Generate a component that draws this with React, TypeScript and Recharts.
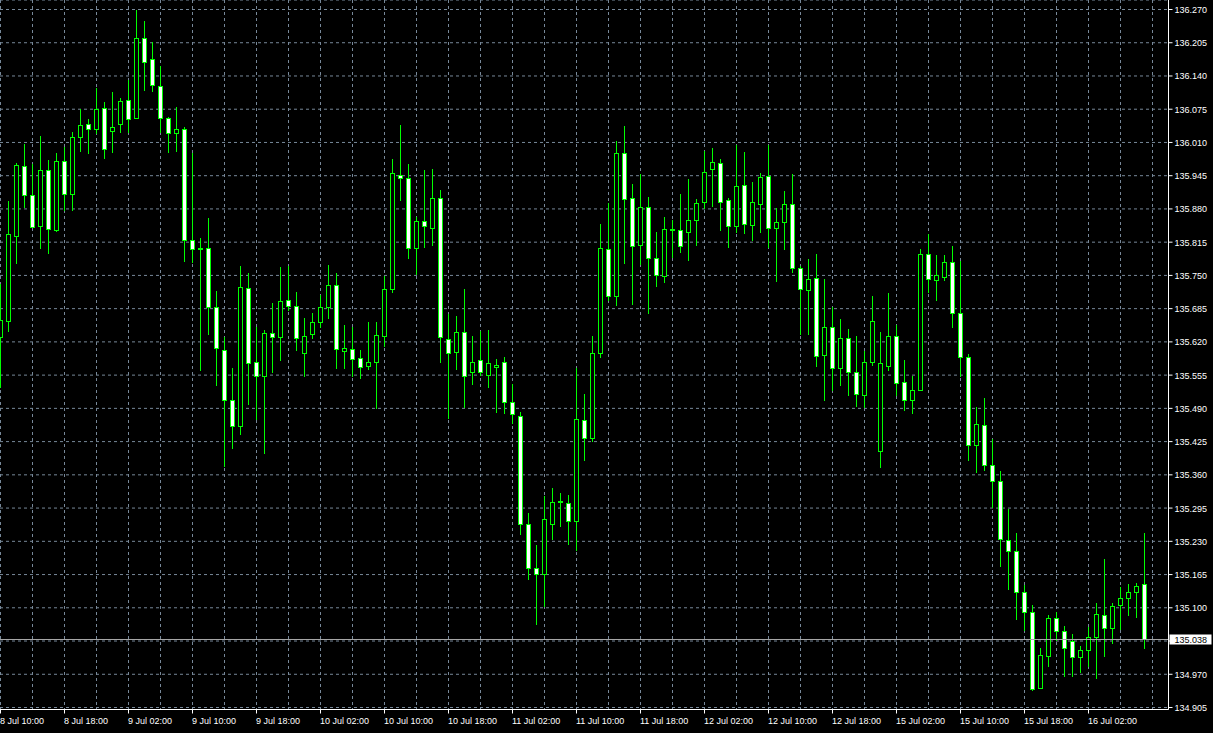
import React from "react"
import { ComposedChart, Bar, XAxis, YAxis, CartesianGrid, ReferenceLine } from "recharts"

// hourly candles, 8 Jul 10:00 .. 16 Jul 09:00
const opens = [
  135.630, 135.660, 135.827, 135.964, 135.908, 135.847, 135.957, 135.839, 135.973, 135.910,
  136.020, 136.046, 136.036, 136.078, 136.032, 136.046, 136.093, 136.058, 136.215, 136.174,
  136.121, 136.058, 136.028, 136.036, 135.820, 135.802, 135.804, 135.689, 135.605, 135.507,
  135.456, 135.726, 135.580, 135.554, 135.637, 135.629, 135.702, 135.690, 135.599, 135.636,
  135.659, 135.689, 135.732, 135.603, 135.607, 135.588, 135.572, 135.580, 135.631, 135.724,
  135.947, 135.941, 135.804, 135.857, 135.843, 135.902, 135.625, 135.601, 135.639, 135.562,
  135.584, 135.556, 135.570, 135.580, 135.503, 135.476, 135.264, 135.178, 135.167, 135.264,
  135.309, 135.305, 135.270, 135.468, 135.433, 135.599, 135.802, 135.710, 135.989, 135.902,
  135.810, 135.883, 135.785, 135.749, 135.841, 135.838, 135.834, 135.859, 135.894, 135.959,
  135.969, 135.898, 135.847, 135.926, 135.849, 135.890, 135.944, 135.843, 135.855, 135.889,
  135.765, 135.722, 135.745, 135.595, 135.650, 135.568, 135.627, 135.562, 135.517, 135.580,
  135.407, 135.572, 135.631, 135.541, 135.507, 135.525, 135.792, 135.741, 135.747, 135.777,
  135.677, 135.590, 135.419, 135.458, 135.380, 135.348, 135.233, 135.212, 135.130, 135.092,
  134.943, 135.006, 135.081, 135.055, 135.036, 135.004, 135.018, 135.043, 135.085, 135.061,
  135.106, 135.120, 135.130, 135.147,
]

const highs = [
  135.734, 135.895, 135.969, 136.007, 135.968, 136.022, 135.975, 135.989, 136.002, 136.030,
  136.075, 136.056, 136.117, 136.090, 136.108, 136.097, 136.133, 136.269, 136.247, 136.207,
  136.159, 136.060, 136.080, 136.041, 135.989, 135.823, 135.862, 135.719, 135.629, 135.569,
  135.768, 135.754, 135.650, 135.643, 135.697, 135.766, 135.768, 135.717, 135.667, 135.677,
  135.711, 135.770, 135.754, 135.653, 135.649, 135.605, 135.659, 135.659, 135.749, 135.977,
  136.044, 135.968, 135.865, 135.957, 135.959, 135.917, 135.675, 135.671, 135.724, 135.631,
  135.641, 135.644, 135.586, 135.590, 135.537, 135.482, 135.286, 135.222, 135.319, 135.335,
  135.325, 135.321, 135.568, 135.518, 135.631, 135.851, 135.892, 136.012, 136.042, 135.928,
  135.949, 135.903, 135.834, 135.864, 135.858, 135.909, 135.938, 135.899, 135.993, 135.999,
  135.977, 135.902, 136.005, 135.991, 135.932, 135.950, 136.005, 135.881, 135.916, 135.949,
  135.769, 135.783, 135.791, 135.743, 135.689, 135.665, 135.646, 135.631, 135.603, 135.710,
  135.639, 135.716, 135.653, 135.584, 135.554, 135.802, 135.830, 135.789, 135.789, 135.808,
  135.779, 135.597, 135.492, 135.511, 135.431, 135.368, 135.293, 135.246, 135.145, 135.106,
  135.022, 135.085, 135.091, 135.065, 135.049, 135.026, 135.063, 135.110, 135.196, 135.110,
  135.140, 135.147, 135.149, 135.247,
]

const lows = [
  135.529, 135.640, 135.773, 135.881, 135.842, 135.802, 135.792, 135.835, 135.876, 135.876,
  135.992, 135.988, 136.026, 135.978, 135.990, 136.029, 136.029, 136.055, 136.110, 136.108,
  136.029, 135.990, 135.992, 135.776, 135.775, 135.563, 135.633, 135.534, 135.376, 135.410,
  135.438, 135.497, 135.467, 135.400, 135.559, 135.582, 135.680, 135.603, 135.552, 135.626,
  135.647, 135.664, 135.567, 135.567, 135.552, 135.548, 135.565, 135.488, 135.610, 135.715,
  135.896, 135.782, 135.751, 135.804, 135.807, 135.579, 135.470, 135.565, 135.491, 135.535,
  135.554, 135.529, 135.480, 135.478, 135.460, 135.242, 135.155, 135.067, 135.102, 135.233,
  135.258, 135.222, 135.212, 135.387, 135.424, 135.589, 135.700, 135.690, 135.772, 135.692,
  135.770, 135.674, 135.727, 135.735, 135.784, 135.794, 135.778, 135.807, 135.879, 135.883,
  135.837, 135.804, 135.833, 135.831, 135.817, 135.833, 135.804, 135.737, 135.800, 135.755,
  135.633, 135.633, 135.570, 135.505, 135.524, 135.534, 135.514, 135.493, 135.490, 135.572,
  135.374, 135.563, 135.515, 135.484, 135.478, 135.523, 135.716, 135.700, 135.740, 135.648,
  135.552, 135.387, 135.363, 135.368, 135.295, 135.180, 135.135, 135.077, 135.055, 134.938,
  134.941, 134.985, 135.036, 134.964, 134.965, 134.973, 134.985, 134.961, 135.004, 135.030,
  135.057, 135.083, 135.081, 135.020,
]

const closes = [
  135.662, 135.830, 135.965, 135.908, 135.845, 135.957, 135.841, 135.973, 135.910, 136.020,
  136.045, 136.036, 136.076, 135.998, 136.040, 136.092, 136.056, 136.215, 136.168, 136.123,
  136.058, 136.028, 136.036, 135.820, 135.802, 135.804, 135.688, 135.609, 135.507, 135.456,
  135.728, 135.578, 135.554, 135.637, 135.629, 135.700, 135.690, 135.627, 135.631, 135.659,
  135.689, 135.732, 135.607, 135.609, 135.586, 135.570, 135.580, 135.633, 135.724, 135.951,
  135.941, 135.804, 135.857, 135.847, 135.902, 135.629, 135.599, 135.639, 135.554, 135.580,
  135.562, 135.578, 135.574, 135.503, 135.478, 135.264, 135.178, 135.167, 135.274, 135.307,
  135.307, 135.270, 135.470, 135.433, 135.599, 135.804, 135.710, 135.990, 135.900, 135.808,
  135.883, 135.785, 135.751, 135.840, 135.840, 135.808, 135.859, 135.892, 135.953, 135.971,
  135.894, 135.847, 135.924, 135.851, 135.894, 135.942, 135.843, 135.855, 135.889, 135.765,
  135.724, 135.743, 135.593, 135.650, 135.568, 135.627, 135.562, 135.519, 135.580, 135.661,
  135.578, 135.631, 135.539, 135.507, 135.525, 135.792, 135.743, 135.751, 135.777, 135.677,
  135.590, 135.419, 135.460, 135.380, 135.348, 135.235, 135.212, 135.130, 135.092, 134.941,
  135.008, 135.081, 135.055, 135.022, 135.004, 135.018, 135.043, 135.087, 135.061, 135.104,
  135.120, 135.130, 135.143, 135.038,
]

// one label every 8 candles
const timeLabels = [
  "8 Jul 10:00", "8 Jul 18:00", "9 Jul 02:00", "9 Jul 10:00", "9 Jul 18:00", "10 Jul 02:00",
  "10 Jul 10:00", "10 Jul 18:00", "11 Jul 02:00", "11 Jul 10:00", "11 Jul 18:00", "12 Jul 02:00",
  "12 Jul 10:00", "12 Jul 18:00", "15 Jul 02:00", "15 Jul 10:00", "15 Jul 18:00", "16 Jul 02:00",
]

const priceTicks = [
  136.270, 136.205, 136.140, 136.075, 136.010, 135.945, 135.880, 135.815, 135.750, 135.685, 135.620,
  135.555, 135.490, 135.425, 135.360, 135.295, 135.230, 135.165, 135.100, 135.035, 134.970, 134.905,
]

const lastPrice = 135.038

const candles = opens.map((open, i) => ({ i, open, high: highs[i], low: lows[i], close: closes[i] }))
const gridTicks = Array.from({ length: 37 }, (_, k) => k * 4)

const LIME = "#00ff00"
const FONT = "Tahoma, 'Liberation Sans', Arial, sans-serif"

function Candle(props: any) {
  const { x, y, width, height, payload } = props
  if (!payload) return null
  const { open, high, low, close } = payload
  const top = Math.min(y, y + height)
  const bottom = Math.max(y, y + height)
  const k = (bottom - top) / (high - low || 1)
  const py = (p: number) => top + (high - p) * k
  const cx = Math.round(x + width / 2 - 0.5) + 0.5
  const bull = close > open
  const bt = Math.round(py(Math.max(open, close))) + 0.5
  let bb = Math.round(py(Math.min(open, close))) + 0.5
  if (bb - bt < 1) bb = bt + 1
  return (
    <g>
      <line x1={cx} x2={cx} y1={Math.round(top)} y2={Math.round(bottom)} stroke={LIME} strokeWidth={1} />
      <rect x={cx - 2} y={bt} width={4} height={bb - bt} fill={bull ? "#000" : "#fff"} stroke={LIME} strokeWidth={1} />
    </g>
  )
}

function TimeTick(props: any) {
  const { x, y, payload } = props
  const idx = payload.value
  if (idx % 8 !== 0) return null
  const label = timeLabels[idx / 8]
  if (!label) return null
  const px = Math.round(x - 0.5) + 0.5
  return (
    <g>
      <line x1={px} x2={px} y1={y} y2={y + 4} stroke="#fff" />
      <text x={px - 0.5} y={y + 14} fontSize={9} fontFamily={FONT} fill="#fff" textAnchor="start">
        {label}
      </text>
    </g>
  )
}

function PriceTick(props: any) {
  const { x, y, payload } = props
  const v = payload.value
  const hidden = Math.abs(v - lastPrice) < 0.01
  return (
    <g>
      <line x1={x} x2={x + 4} y1={y} y2={y} stroke="#fff" />
      {!hidden && (
        <text x={x + 6} y={y + 3.5} fontSize={9} fontFamily={FONT} fill="#fff" textAnchor="start">
          {v.toFixed(3)}
        </text>
      )}
    </g>
  )
}

function PriceTag(props: any) {
  const vb = props.viewBox
  if (!vb) return null
  const x0 = vb.x + vb.width + 1
  return (
    <g>
      <rect x={x0} y={vb.y - 5} width={42} height={10} fill="#fff" />
      <text x={x0 + 5} y={vb.y + 3.5} fontSize={9} fontFamily={FONT} fill="#000">
        {lastPrice.toFixed(3)}
      </text>
    </g>
  )
}

export default function App() {
  return (
    <div style={{ width: 1213, height: 733, background: "#000" }}>
      <style>{"html,body{margin:0;padding:0;background:#000;}"}</style>
      <ComposedChart width={1213} height={733} data={candles} margin={{ top: 0, right: 0, bottom: 0, left: 0 }}>
        <CartesianGrid stroke="#778899" strokeDasharray="3 3" fill="none" />
        <XAxis
          dataKey="i"
          type="number"
          domain={[-0.0625, 146]}
          allowDataOverflow
          ticks={gridTicks}
          interval={0}
          height={23.5}
          axisLine={{ stroke: "#fff" }}
          tickLine={false}
          tickSize={0}
          tickMargin={0}
          tick={<TimeTick />}
        />
        <YAxis
          orientation="right"
          type="number"
          domain={[134.9011, 136.28858]}
          allowDataOverflow
          ticks={priceTicks}
          interval={0}
          width={44.5}
          axisLine={{ stroke: "#fff" }}
          tickLine={false}
          tickSize={0}
          tickMargin={0}
          tick={<PriceTick />}
        />
        <ReferenceLine y={lastPrice} stroke="#a8a8a8" label={<PriceTag />} />
        <Bar
          dataKey={(d: any) => [d.low, d.high]}
          barSize={5}
          shape={<Candle />}
          isAnimationActive={false}
        />
      </ComposedChart>
    </div>
  )
}
